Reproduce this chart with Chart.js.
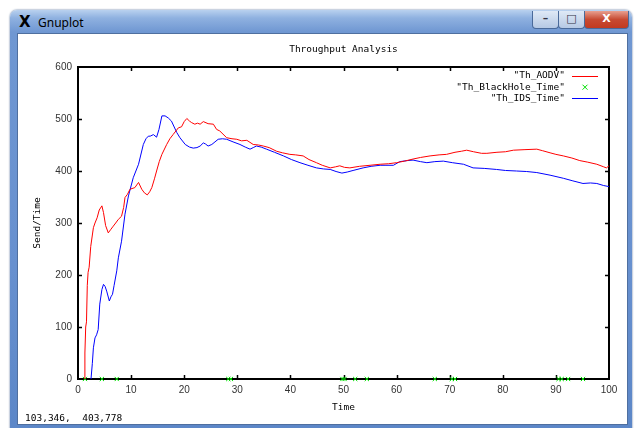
<!DOCTYPE html>
<html>
<head>
<meta charset="utf-8">
<script src="https://cdn.jsdelivr.net/npm/chart.js@4.4.0/dist/chart.umd.min.js"></script>
<style>
  html, body { margin: 0; padding: 0; background: #ffffff; width: 642px; height: 428px; overflow: hidden; }
  #win { position: absolute; left: 10px; top: 10px; width: 622px; height: 430px;
         border-radius: 7px 7px 0 0;
         background: linear-gradient(to bottom, #b9d1ef 0px, #8fb1e0 8px, #6f97d2 22px, #6790cf 60%, #5b86c7 100%);
         box-shadow: 0 0 2px #3a5a8a; }
  #title { position: absolute; left: 28px; top: 4px; font: 12px "Noto Sans", "DejaVu Sans", sans-serif; color: #000; }
  #xlogo { position: absolute; left: 9px; top: 3px; font: bold 15px "DejaVu Sans", sans-serif; color: #000; }
  .btn { position: absolute; top: 1px; height: 17px; border: 1px solid #4a6a9a; border-top: none; border-radius: 0 0 4px 4px; }
  #bmin { left: 522px; width: 25px; background: linear-gradient(#dfe9f6, #b6c9e4); }
  #bmax { left: 548px; width: 25px; background: linear-gradient(#dfe9f6, #b6c9e4); }
  #bclose { left: 574px; width: 43px; background: linear-gradient(#e8a090, #c74a32 50%, #c23a20); }
  .glyph { position: absolute; font: bold 11px "DejaVu Sans", sans-serif; color: #fff; text-align: center; width: 100%; top: 1px; }
  #client { position: absolute; left: 7px; top: 23px; width: 609px; height: 390px; background: #fff; border: 1px solid #4f6f9f; }
  canvas { position: absolute; left: 0; top: 0; }
</style>
</head>
<body>
<div id="win">
  <div id="xlogo">X</div>
  <div id="title">Gnuplot</div>
  <div class="btn" id="bmin"><div class="glyph" style="color:#334">&#8211;</div></div>
  <div class="btn" id="bmax"><div class="glyph" style="color:#334">&#9633;</div></div>
  <div class="btn" id="bclose"><div class="glyph">X</div></div>
  <div id="client"><canvas id="c" width="609" height="390"></canvas></div>
</div>
<script>
// ---- data ----
const chartTitle = "Throughput Analysis";
const xAxisTitle = "Time";
const yAxisTitle = "Send/Time";
const statusText = "103,346,  403,778";
const seriesNames = ['"Th_AODV"', '"Th_BlackHole_Time"', '"Th_IDS_Time"'];

const aodvTime = [1.2,1.3,1.45,1.6,1.75,1.9,2.1,2.4,2.9,3.2,3.6,4.0,4.5,4.8,5.2,5.7,6.2,6.65,7.1,7.6,8.2,8.6,8.85,9.3,9.8,10.7,11.4,12.0,12.5,13.05,13.5,13.9,14.4,14.8,15.3,15.8,16.7,17.3,17.9,18.9,19.5,20.0,20.5,21.0,21.4,22.0,22.5,23.0,23.6,24.5,25.5,26.1,26.7,28.0,29.0,29.9,30.8,31.8,33.0,34.0,34.9,36.0,37.4,38.5,39.9,41.0,42.4,43.5,44.9,46.0,47.5,48.5,49.3,50.2,51.2,53,55,56.9,58.5,60,61.5,63.1,64.5,66.3,68,69.4,71,72.2,73.2,74.5,76,77,78.9,80.5,82,84,86.4,87.5,88.9,90,91.4,93,94.5,96,97.7,99.0,99.5,100];
const aodvValues = [0,50,100,110,180,205,215,255,291,300,310,325,333,320,295,281,288,294,300,307,313,330,349,355,365,368,378,365,358,354,360,368,385,400,418,432,451,462,470,483,485,495,501,496,493,490,492,490,495,491,490,480,477,464,462,461,458,459,451,450,448,445,438,435,432,431,429,422,416,411,406,408,410,407,406,409,411,413,414,416,419,423,426,429,431,432,436,438,440,437,434,434,436,437,440,441,442,439,435,432,429,425,420,417,413,408,406,410];

const idsTime = [2.45,2.7,2.9,3.2,3.5,3.8,4.1,4.5,4.8,5.1,5.4,5.9,6.2,6.5,6.8,7.3,7.6,8.2,8.85,9.5,10.4,11.4,12.3,12.8,13.25,13.6,14.2,14.8,15.25,15.8,16.4,17.0,17.6,18.6,19.2,20.2,21.0,21.7,22.4,23.0,23.6,24.0,24.5,25.2,25.8,26.4,27.2,28.0,29.2,30.5,31.5,32.4,33.0,33.6,34.5,35.5,37.0,38.7,40.2,41.8,43.3,44.9,46.2,47.5,48.6,49.7,50.7,51.8,53.7,55.2,56.9,58,59.4,60.6,62,63.1,64.5,65.7,67.2,68.8,70.5,72.6,74.4,76.5,78.8,80.5,82.6,84.5,86.4,88.9,91.4,93.2,95.1,96.5,97.7,99.0,100];
const idsValues = [0,30,60,79,85,95,144,172,182,178,169,150,158,163,180,208,233,265,317,352,387,413,451,462,467,467,470,465,480,506,506,502,496,474,464,451,446,444,445,448,454,452,448,451,456,461,462,461,456,451,446,442,445,448,446,442,436,429,422,416,411,406,404,403,399,396,398,401,406,409,411,411,411,418,420,421,418,416,418,419,416,413,406,405,403,401,400,399,397,392,386,381,376,377,376,372,370];

const blackholeTime = [1.3,4.5,7.3,28.3,28.8,49.8,50.2,52.2,54.4,67.2,70.4,71.0,90.5,91.1,92.3,95.1];
const blackholeValues = [0,0,0,0,0,0,0,0,0,0,0,0,0,0,0,0];

const xTickStep = 10, xMin = 0, xMax = 100;
const yTickStep = 100, yMin = 0, yMax = 600;

function pts(xs, ys) { return xs.map((x, i) => ({ x: x, y: ys[i] })); }

const MONO = '9.5px "DejaVu Sans Mono", "Liberation Mono", monospace';

const gnuplotDecor = {
  id: 'gnuplotDecor',
  beforeDatasetsDraw(chart) {
    const { ctx, chartArea: a, scales } = chart;
    ctx.save();
    ctx.strokeStyle = '#000';
    ctx.lineWidth = 1.5;
    const tl = 4;
    ctx.beginPath();
    scales.x.ticks.forEach(t => {
      if (t.value <= xMin || t.value >= xMax) return;
      const px = Math.round(scales.x.getPixelForValue(t.value)) + 0.5;
      ctx.moveTo(px, a.bottom); ctx.lineTo(px, a.bottom - tl);
      ctx.moveTo(px, a.top); ctx.lineTo(px, a.top + tl);
    });
    scales.y.ticks.forEach(t => {
      if (t.value <= yMin || t.value >= yMax) return;
      const py = Math.round(scales.y.getPixelForValue(t.value)) + 0.5;
      ctx.moveTo(a.left, py); ctx.lineTo(a.left + tl, py);
      ctx.moveTo(a.right, py); ctx.lineTo(a.right - tl, py);
    });
    ctx.stroke();
    ctx.lineWidth = 2;
    ctx.strokeRect(a.left, a.top, a.right - a.left, a.bottom - a.top);
    ctx.restore();
  },
  afterDraw(chart) {
    const { ctx, chartArea: a } = chart;
    ctx.save();
    ctx.font = MONO;
    ctx.fillStyle = '#000';
    ctx.textBaseline = 'middle';
    ctx.textAlign = 'center';
    ctx.fillText(chartTitle, (a.left + a.right) / 2, 16);
    ctx.textAlign = 'left';
    ctx.fillText(statusText, 7, 385);
    // legend
    const textRight = a.right - 44, sx0 = a.right - 37, sx1 = a.right - 11;
    chart.data.datasets.forEach((ds, i) => {
      const y = a.top + 9 + i * 11.2;
      ctx.fillStyle = '#000';
      ctx.textAlign = 'right';
      ctx.fillText(ds.label, textRight, y);
      ctx.strokeStyle = ds.borderColor;
      ctx.lineWidth = 1;
      if (ds.showLine) {
        ctx.beginPath(); ctx.moveTo(sx0, Math.round(y) + 0.5); ctx.lineTo(sx1, Math.round(y) + 0.5); ctx.stroke();
      } else {
        const cx = (sx0 + sx1) / 2, r = 2.5;
        ctx.beginPath();
        ctx.moveTo(cx - r, y - r); ctx.lineTo(cx + r, y + r);
        ctx.moveTo(cx - r, y + r); ctx.lineTo(cx + r, y - r);
        ctx.stroke();
      }
    });
    ctx.restore();
  }
};

new Chart(document.getElementById('c'), {
  type: 'scatter',
  data: {
    datasets: [
      { label: seriesNames[0], data: pts(aodvTime, aodvValues), showLine: true, borderColor: '#ff0000', borderWidth: 1, pointRadius: 0, tension: 0 },
      { label: seriesNames[1], data: pts(blackholeTime, blackholeValues), showLine: false, borderColor: '#00e000', backgroundColor: '#00e000', pointStyle: 'crossRot', pointRadius: 3, borderWidth: 1, clip: false },
      { label: seriesNames[2], data: pts(idsTime, idsValues), showLine: true, borderColor: '#0000ff', borderWidth: 1, pointRadius: 0, tension: 0 }
    ]
  },
  options: {
    responsive: false,
    devicePixelRatio: 1,
    animation: false,
    layout: { padding: { left: 0, right: 18, top: 33, bottom: 9 } },
    plugins: { legend: { display: false }, title: { display: false }, tooltip: { enabled: false } },
    scales: {
      x: {
        type: 'linear', min: xMin, max: xMax,
        afterFit(s) { s.height = 36; },
        grid: { display: false, drawTicks: false },
        border: { display: false },
        ticks: { stepSize: xTickStep, padding: 5, color: '#333', font: { family: '"Liberation Sans", Arial, sans-serif', size: 10 }, maxRotation: 0 },
        title: { display: true, text: xAxisTitle, color: '#000', font: { family: '"DejaVu Sans Mono", monospace', size: 9.5 }, padding: { top: 0, bottom: 1.3 } }
      },
      y: {
        type: 'linear', min: yMin, max: yMax,
        afterFit(s) { s.width = 60; },
        grid: { display: false, drawTicks: false },
        border: { display: false },
        ticks: { stepSize: yTickStep, padding: 6, color: '#333', font: { family: '"Liberation Sans", Arial, sans-serif', size: 10 } },
        title: { display: true, text: yAxisTitle, color: '#000', font: { family: '"DejaVu Sans Mono", monospace', size: 9.5 }, padding: { top: 14.3, bottom: 0 } }
      }
    }
  },
  plugins: [gnuplotDecor]
});
</script>
</body>
</html>
